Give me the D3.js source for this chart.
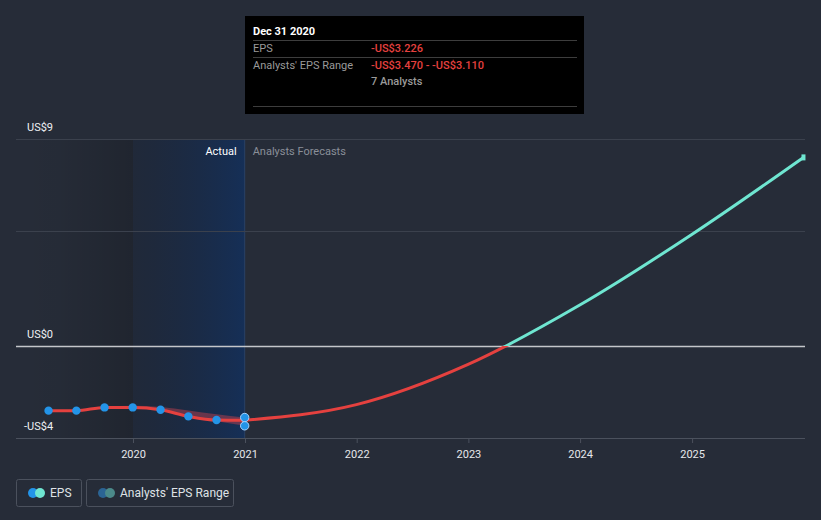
<!DOCTYPE html>
<html><head><meta charset="utf-8">
<script src="https://cdn.jsdelivr.net/npm/d3@7"></script>
<style>
html,body{margin:0;padding:0;background:#262c38;}
svg{display:block;font-family:Roboto,"Noto Sans",sans-serif;}
</style></head>
<body>
<svg id="c" width="821" height="520"></svg>
<script>
// ---- data ----
const actualDates = ["2019-03-31","2019-06-30","2019-09-30","2019-12-31","2020-03-31","2020-06-30","2020-09-30","2020-12-31"];
const actualEPS   = [-2.81, -2.81, -2.67, -2.67, -2.77, -3.06, -3.22, -3.226];
const rangeDates  = ["2019-09-30","2019-12-31","2020-03-31","2020-06-30","2020-09-30","2020-12-31"];
const rangeHigh   = [-2.62, -2.6, -2.65, -2.8, -2.97, -3.11];
const rangeLow    = [-2.7, -2.7, -2.8, -3.1, -3.27, -3.47];
const lastDotValues = [-3.11, -3.47];
const forecastDates = ["2020-12-31","2021-12-31","2022-12-31","2023-12-31","2024-12-31","2025-12-31"];
const forecastEPS   = [-3.226, -2.55, -0.8, 1.78, 4.85, 8.2];
const xTickYears = [2020, 2021, 2022, 2023, 2024, 2025];
const yTickValues = [9, 0, -4];
const yTickLabels = ["US$9", "US$0", "-US$4"];
const gridValues = [9, 5];
const tooltipTitle = "Dec 31 2020";
const tooltipRows = [["EPS","-US$3.226"],["Analysts' EPS Range","-US$3.470 - -US$3.110"]];
const tooltipAnalysts = "7 Analysts";

const parse = d3.timeParse("%Y-%m-%d");
const svg = d3.select("#c");
const L = 16, R = 805, T = 139, B = 438;

const x0 = d3.scaleTime().domain([new Date(2020,0,1), new Date(2021,0,1)]).range([133,245]);
const x = d3.scaleTime().domain([x0.invert(L), x0.invert(R)]).range([L, R]);
const y = d3.scaleLinear().domain([-4, 9]).range([B, T]);

const defs = svg.append("defs");
const g1 = defs.append("linearGradient").attr("id","gDark").attr("x1","0").attr("x2","1").attr("y1","0").attr("y2","0");
g1.append("stop").attr("offset","0").attr("stop-color","#000").attr("stop-opacity",0);
g1.append("stop").attr("offset","0.35").attr("stop-color","#000").attr("stop-opacity",0.02);
g1.append("stop").attr("offset","1").attr("stop-color","#000").attr("stop-opacity",0.16);
const g2 = defs.append("linearGradient").attr("id","gBlue").attr("x1","0").attr("x2","1").attr("y1","0").attr("y2","0");
g2.append("stop").attr("offset","0").attr("stop-color","#13223c").attr("stop-opacity",0.3);
g2.append("stop").attr("offset","1").attr("stop-color","#11305f").attr("stop-opacity",0.8);

const tEnd = parse(actualDates[actualDates.length-1]);
const tMid = new Date(2020,0,1);
// shaded regions
svg.append("rect").attr("x", L).attr("y", T).attr("width", x(tMid)-L).attr("height", B-T).attr("fill","url(#gDark)");
svg.append("rect").attr("x", x(tMid)).attr("y", T).attr("width", x(tEnd)-x(tMid)).attr("height", B-T).attr("fill","url(#gBlue)");
svg.append("line").attr("x1", x(tEnd)).attr("x2", x(tEnd)).attr("y1", T).attr("y2", B).attr("stroke","#2a4266").attr("stroke-width",1);

// gridlines
svg.selectAll("line.grid").data(gridValues).join("line").attr("class","grid")
  .attr("x1", L).attr("x2", R).attr("y1", d=>y(d)+0.5).attr("y2", d=>y(d)+0.5)
  .attr("stroke","#3b414d").attr("stroke-width",1);
// zero line
svg.append("line").attr("x1", L).attr("x2", R).attr("y1", y(0)+0.5).attr("y2", y(0)+0.5).attr("stroke","#c4c6ca").attr("stroke-width",1.5);

// y labels
svg.selectAll("text.yl").data(yTickValues).join("text").attr("class","yl")
  .attr("x", (d,i)=> d<0 ? 24 : 27).attr("y", d=>y(d)-8)
  .attr("fill","#eef0f3").attr("font-size",11).text((d,i)=>yTickLabels[i]);

// x axis
const ax = svg.append("g").attr("transform",`translate(0,${B})`)
  .call(d3.axisBottom(x).tickValues(xTickYears.map(yr=>new Date(yr,0,1))).tickFormat(d3.timeFormat("%Y")).tickSize(5).tickPadding(7));
ax.select(".domain").remove();
ax.selectAll(".tick line").attr("stroke","#4b515d");
ax.selectAll(".tick text").attr("fill","#e6e8eb").attr("font-size",11).attr("font-family","Roboto,sans-serif");
svg.append("line").attr("x1",L).attr("x2",R).attr("y1",B+0.5).attr("y2",B+0.5).attr("stroke","#4b515d");

// Actual / Forecast labels
svg.append("text").attr("x", x(tEnd)-8).attr("y",155).attr("text-anchor","end").attr("fill","#ffffff").attr("font-size",11).text("Actual");
svg.append("text").attr("x", x(tEnd)+8).attr("y",155).attr("fill","#8a8f98").attr("font-size",11).text("Analysts Forecasts");

// range band
const rangeData = rangeDates.map((d,i)=>({t:parse(d), hi:rangeHigh[i], lo:rangeLow[i]}));
svg.append("path").datum(rangeData)
  .attr("d", d3.area().x(d=>x(d.t)).y0(d=>y(d.lo)).y1(d=>y(d.hi)).curve(d3.curveMonotoneX))
  .attr("fill","#b8404f").attr("fill-opacity",0.5);

// actual line
const actData = actualDates.map((d,i)=>({t:parse(d), v:actualEPS[i]}));
svg.append("path").datum(actData)
  .attr("d", d3.line().x(d=>x(d.t)).y(d=>y(d.v)).curve(d3.curveMonotoneX))
  .attr("fill","none").attr("stroke","#e5413f").attr("stroke-width",3);

// forecast line split at zero
const fData = forecastDates.map((d,i)=>({t:parse(d), v:forecastEPS[i]}));
defs.append("clipPath").attr("id","below").append("rect").attr("x",0).attr("y",y(0)).attr("width",821).attr("height",520);
defs.append("clipPath").attr("id","above").append("rect").attr("x",0).attr("y",0).attr("width",821).attr("height",y(0));
const fl = d3.line().x(d=>x(d.t)).y(d=>y(d.v)).curve(d3.curveMonotoneX);
svg.append("path").datum(fData).attr("d", fl).attr("fill","none").attr("stroke","#e5413f").attr("stroke-width",3).attr("clip-path","url(#below)");
svg.append("path").datum(fData).attr("d", fl).attr("fill","none").attr("stroke","#6fe6d1").attr("stroke-width",3).attr("clip-path","url(#above)");
// end marker
const lastF = fData[fData.length-1];
svg.append("rect").attr("x", x(lastF.t)-2).attr("y", y(lastF.v)-3).attr("width",4).attr("height",6).attr("fill","#6fe6d1");

// dots
svg.selectAll("circle.act").data(actData.slice(0,-1)).join("circle").attr("class","act")
  .attr("cx", d=>x(d.t)).attr("cy", d=>y(d.v)).attr("r",4.2).attr("fill","#2394e8");
svg.selectAll("circle.last").data(lastDotValues).join("circle").attr("class","last")
  .attr("cx", x(tEnd)).attr("cy", d=>y(d)).attr("r",4.2).attr("fill","#2394e8").attr("stroke","#a9d4ff").attr("stroke-width",1);

// tooltip
const tt = svg.append("g");
tt.append("rect").attr("x",245).attr("y",16).attr("width",339).attr("height",98).attr("fill","#000");
tt.append("text").attr("x",253).attr("y",35).attr("fill","#fff").attr("font-size",11).attr("font-weight","bold").text(tooltipTitle);
[40.5,57.5,106.5].forEach(yy=>tt.append("line").attr("x1",253).attr("x2",577).attr("y1",yy).attr("y2",yy).attr("stroke","#3d3d3d"));
tooltipRows.forEach((r,i)=>{
  tt.append("text").attr("x",253).attr("y",52+i*17).attr("fill","#9a9a9a").attr("font-size",11).text(r[0]);
  tt.append("text").attr("x",371).attr("y",52+i*17).attr("fill","#e5413f").attr("font-size",11).attr("font-weight",500).text(r[1]);
});
tt.append("text").attr("x",371).attr("y",85).attr("fill","#9a9a9a").attr("font-size",11).attr("font-weight",500).text(tooltipAnalysts);

// legend
const lg = svg.append("g");
lg.append("rect").attr("x",16.5).attr("y",479.5).attr("width",65).attr("height",27).attr("rx",2).attr("fill","none").attr("stroke","#4b515d");
lg.append("circle").attr("cx",33).attr("cy",493).attr("r",5).attr("fill","#2394e8");
lg.append("circle").attr("cx",40).attr("cy",493).attr("r",5).attr("fill","#6fe6d1");
lg.append("text").attr("x",50).attr("y",497).attr("fill","#dfe2e6").attr("font-size",12).text("EPS");
lg.append("rect").attr("x",86.5).attr("y",479.5).attr("width",147).attr("height",27).attr("rx",2).attr("fill","none").attr("stroke","#4b515d");
lg.append("circle").attr("cx",103).attr("cy",493).attr("r",5).attr("fill","#2b6494");
lg.append("circle").attr("cx",110).attr("cy",493).attr("r",5).attr("fill","#4b8a8a");
lg.append("text").attr("x",120).attr("y",497).attr("fill","#dfe2e6").attr("font-size",12).text("Analysts' EPS Range");
</script>
</body></html>
